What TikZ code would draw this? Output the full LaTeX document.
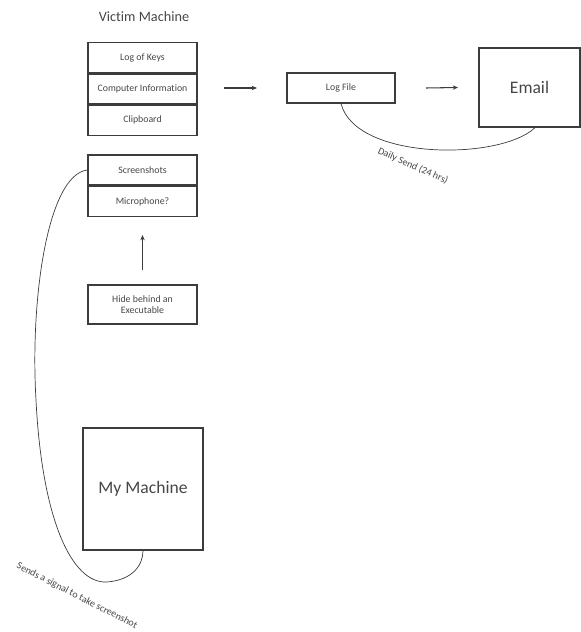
\documentclass[tikz,border=0pt]{standalone}
\usepackage{fontspec}
\setmainfont{Carlito}[Ligatures=NoCommon]
\usetikzlibrary{positioning, arrows.meta}
\definecolor{LineColor}{RGB}{60,60,60}
\definecolor{TextColor}{RGB}{70,70,70}
\tikzstyle{arrow} = [LineColor, semithick, -{Stealth[length=3pt, width=2.5pt]}]
\tikzstyle{item} = [rectangle, draw=LineColor, thick, minimum width=2.18cm, minimum height=0.6cm, inner sep=0pt, text=TextColor, font=\fontsize{5.6}{6.6}\selectfont, align=center]
\tikzstyle{bigbox} = [rectangle, draw=LineColor, thick, text=TextColor, font=\fontsize{10}{12}\selectfont]
\tikzstyle{note} = [text=TextColor, font=\fontsize{5.7}{6}\selectfont]
\begin{document}
\begin{tikzpicture}[x=0.02cm, y=-0.02cm]
      \useasboundingbox (0,0) rectangle (581,632);

      % Victim machine
      \node[text=TextColor, font=\fontsize{8.1}{9.5}\selectfont] (title) at (144,17) {Victim Machine};
      \node[item] (keys) at (142.5,57.5) {Log of Keys};
      \node[item, below=0pt of keys] (info) {Computer Information};
      \node[item, below=0pt of info] (clip) {Clipboard};

      \node[item] (shots) at (142.5,170) {Screenshots};
      \node[item, below=0pt of shots] (mic) {Microphone?};

      \node[item, minimum height=0.78cm] (hide) at (142.5,304.5) {Hide behind an\\Executable};

      % Log file and email
      \node[item, minimum width=2.16cm] (log) at (341,88) {Log File};
      \node[bigbox, minimum width=2.02cm, minimum height=1.58cm] (email) at (529.5,87.5) {Email};

      % My machine
      \node[bigbox, minimum width=2.4cm, minimum height=2.44cm] (mine) at (143,489) {My Machine};

      % Connections
      \coordinate (a1) at (224,88);
      \coordinate (a2) at (426,88);
      \draw[arrow] (a1) -- (log.west -| 257,0);
      \draw[arrow] (a2) -- (email.west -| 458,0);
      \draw[arrow] (hide.north |- 0,270) -- (mic.south |- 0,235);

      \draw[LineColor, thin] (log.south) .. controls +(15,57) and +(-35,33) .. (email.south -| 535,0);
      \draw[LineColor, thin] (shots.west) .. controls +(-40,5) and +(-6,-100) .. (36,400)
        .. controls +(6,120) and +(-35,2) .. (107,582)
        .. controls +(25,-2) and +(0,15) .. (mine.south);

      % Labels
      \node[note, rotate=-24] (daily) at (413,166) {Daily Send (24 hrs)};
      \node[note, rotate=-27] (signal) at (77,596) {Sends a signal to take screenshot};
    \end{tikzpicture}
\end{document}
